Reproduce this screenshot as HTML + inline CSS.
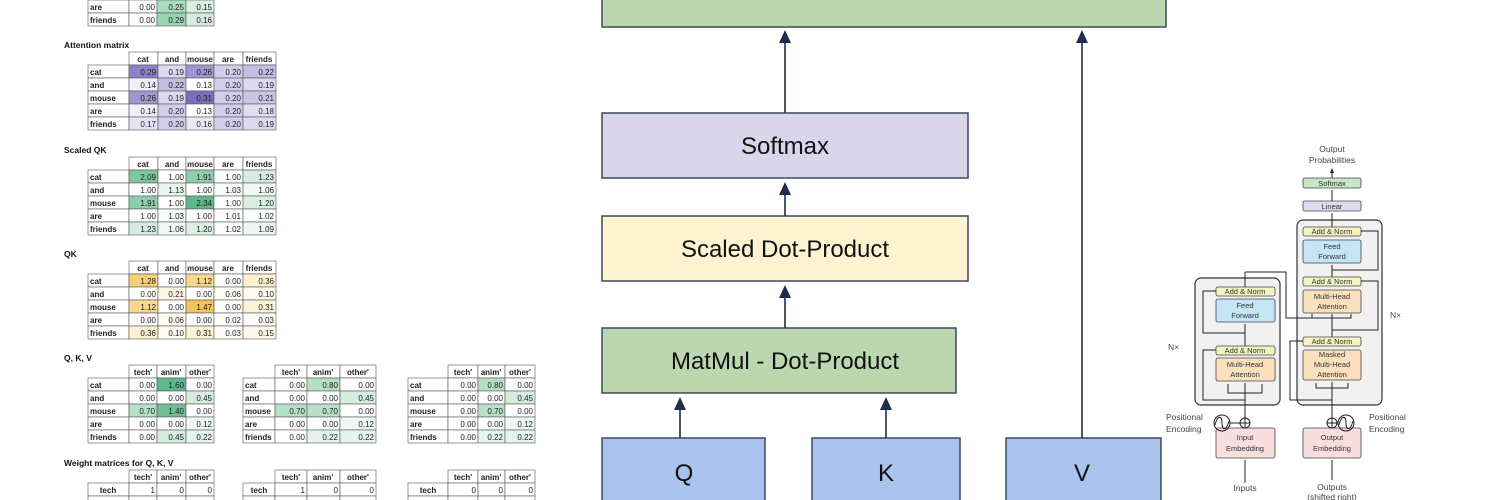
<!DOCTYPE html>
<html><head><meta charset="utf-8"><style>
html,body{margin:0;padding:0;background:#fff;width:1500px;height:500px;overflow:hidden}
svg{display:block}
.t{font-family:"Liberation Sans",sans-serif;font-size:8px;fill:#222}
.b{font-weight:bold}
.ti{font-family:"Liberation Sans",sans-serif;font-size:8.5px;font-weight:bold;fill:#111}
.c rect{stroke:#555;stroke-width:.6}
.big{font-family:"Liberation Sans",sans-serif;font-size:24px;fill:#111}
.s{font-family:"Liberation Sans",sans-serif;font-size:7.5px;fill:#333}
.sm{font-family:"Liberation Sans",sans-serif;font-size:8.5px;fill:#444}
</style></head><body>
<svg width="1500" height="500" viewBox="0 0 1500 500">

<!-- top partial table -->
<g class="c">
<rect x="88" y="0" width="41" height="13" fill="#fff"/><rect x="129" y="0" width="28" height="13" fill="#fff"/><rect x="157" y="0" width="29" height="13" fill="#a9dbbf"/><rect x="186" y="0" width="28" height="13" fill="#d8efe1"/>
<rect x="88" y="13" width="41" height="13" fill="#fff"/><rect x="129" y="13" width="28" height="13" fill="#fff"/><rect x="157" y="13" width="29" height="13" fill="#98d3b2"/><rect x="186" y="13" width="28" height="13" fill="#d5ecdf"/>
</g>
<g class="t" text-anchor="end">
<text x="155" y="10">0.00</text><text x="184" y="10">0.25</text><text x="212" y="10">0.15</text>
<text x="155" y="23">0.00</text><text x="184" y="23">0.29</text><text x="212" y="23">0.16</text>
</g>
<text class="t b" x="90" y="10">are</text><text class="t b" x="90" y="23">friends</text>

<!-- Attention matrix -->
<text class="ti" x="64" y="48">Attention matrix</text>
<g class="c">
<rect x="129" y="52" width="29" height="13" fill="#fff"/><rect x="158" y="52" width="28" height="13" fill="#fff"/><rect x="186" y="52" width="28" height="13" fill="#fff"/><rect x="214" y="52" width="29" height="13" fill="#fff"/><rect x="243" y="52" width="33" height="13" fill="#fff"/>
<rect x="88" y="65" width="41" height="13" fill="#fff"/><rect x="129" y="65" width="29" height="13" fill="#8e80c8"/><rect x="158" y="65" width="28" height="13" fill="#ddd8ef"/><rect x="186" y="65" width="28" height="13" fill="#a195d2"/><rect x="214" y="65" width="29" height="13" fill="#d3cceb"/><rect x="243" y="65" width="33" height="13" fill="#c4bce3"/>
<rect x="88" y="78" width="41" height="13" fill="#fff"/><rect x="129" y="78" width="29" height="13" fill="#f0eef8"/><rect x="158" y="78" width="28" height="13" fill="#c4bce3"/><rect x="186" y="78" width="28" height="13" fill="#fff"/><rect x="214" y="78" width="29" height="13" fill="#d3cceb"/><rect x="243" y="78" width="33" height="13" fill="#ddd8ef"/>
<rect x="88" y="91" width="41" height="13" fill="#fff"/><rect x="129" y="91" width="29" height="13" fill="#a195d2"/><rect x="158" y="91" width="28" height="13" fill="#ddd8ef"/><rect x="186" y="91" width="28" height="13" fill="#7d6cc0"/><rect x="214" y="91" width="29" height="13" fill="#d3cceb"/><rect x="243" y="91" width="33" height="13" fill="#cbc4e7"/>
<rect x="88" y="104" width="41" height="13" fill="#fff"/><rect x="129" y="104" width="29" height="13" fill="#f0eef8"/><rect x="158" y="104" width="28" height="13" fill="#d3cceb"/><rect x="186" y="104" width="28" height="13" fill="#fff"/><rect x="214" y="104" width="29" height="13" fill="#d3cceb"/><rect x="243" y="104" width="33" height="13" fill="#e2def2"/>
<rect x="88" y="117" width="41" height="13" fill="#fff"/><rect x="129" y="117" width="29" height="13" fill="#e6e2f3"/><rect x="158" y="117" width="28" height="13" fill="#d3cceb"/><rect x="186" y="117" width="28" height="13" fill="#ebe8f5"/><rect x="214" y="117" width="29" height="13" fill="#d3cceb"/><rect x="243" y="117" width="33" height="13" fill="#ddd8ef"/>
</g>
<g class="t b" text-anchor="middle"><text x="143" y="62">cat</text><text x="172" y="62">and</text><text x="200" y="62">mouse</text><text x="228" y="62">are</text><text x="259" y="62">friends</text></g>
<g class="t b"><text x="90" y="75">cat</text><text x="90" y="88">and</text><text x="90" y="101">mouse</text><text x="90" y="114">are</text><text x="90" y="127">friends</text></g>
<g class="t" text-anchor="end">
<text x="156" y="75">0.29</text><text x="184" y="75">0.19</text><text x="212" y="75">0.26</text><text x="241" y="75">0.20</text><text x="274" y="75">0.22</text>
<text x="156" y="88">0.14</text><text x="184" y="88">0.22</text><text x="212" y="88">0.13</text><text x="241" y="88">0.20</text><text x="274" y="88">0.19</text>
<text x="156" y="101">0.26</text><text x="184" y="101">0.19</text><text x="212" y="101">0.31</text><text x="241" y="101">0.20</text><text x="274" y="101">0.21</text>
<text x="156" y="114">0.14</text><text x="184" y="114">0.20</text><text x="212" y="114">0.13</text><text x="241" y="114">0.20</text><text x="274" y="114">0.18</text>
<text x="156" y="127">0.17</text><text x="184" y="127">0.20</text><text x="212" y="127">0.16</text><text x="241" y="127">0.20</text><text x="274" y="127">0.19</text>
</g>

<!-- Scaled QK -->
<text class="ti" x="64" y="153">Scaled QK</text>
<g class="c">
<rect x="129" y="157" width="29" height="13" fill="#fff"/><rect x="158" y="157" width="28" height="13" fill="#fff"/><rect x="186" y="157" width="28" height="13" fill="#fff"/><rect x="214" y="157" width="29" height="13" fill="#fff"/><rect x="243" y="157" width="33" height="13" fill="#fff"/>
<rect x="88" y="170" width="41" height="13" fill="#fff"/><rect x="129" y="170" width="29" height="13" fill="#7dc6a0"/><rect x="158" y="170" width="28" height="13" fill="#fff"/><rect x="186" y="170" width="28" height="13" fill="#8dcdaa"/><rect x="214" y="170" width="29" height="13" fill="#fff"/><rect x="243" y="170" width="33" height="13" fill="#d5ecdf"/>
<rect x="88" y="183" width="41" height="13" fill="#fff"/><rect x="129" y="183" width="29" height="13" fill="#fff"/><rect x="158" y="183" width="28" height="13" fill="#e8f5ed"/><rect x="186" y="183" width="28" height="13" fill="#fff"/><rect x="214" y="183" width="29" height="13" fill="#f7fbf9"/><rect x="243" y="183" width="33" height="13" fill="#f2f9f5"/>
<rect x="88" y="196" width="41" height="13" fill="#fff"/><rect x="129" y="196" width="29" height="13" fill="#8dcdaa"/><rect x="158" y="196" width="28" height="13" fill="#fff"/><rect x="186" y="196" width="28" height="13" fill="#5cb88a"/><rect x="214" y="196" width="29" height="13" fill="#fff"/><rect x="243" y="196" width="33" height="13" fill="#daeee2"/>
<rect x="88" y="209" width="41" height="13" fill="#fff"/><rect x="129" y="209" width="29" height="13" fill="#fff"/><rect x="158" y="209" width="28" height="13" fill="#f7fbf9"/><rect x="186" y="209" width="28" height="13" fill="#fff"/><rect x="214" y="209" width="29" height="13" fill="#fff"/><rect x="243" y="209" width="33" height="13" fill="#fafdfb"/>
<rect x="88" y="222" width="41" height="13" fill="#fff"/><rect x="129" y="222" width="29" height="13" fill="#d5ecdf"/><rect x="158" y="222" width="28" height="13" fill="#f2f9f5"/><rect x="186" y="222" width="28" height="13" fill="#daeee2"/><rect x="214" y="222" width="29" height="13" fill="#fafdfb"/><rect x="243" y="222" width="33" height="13" fill="#ecf6f0"/>
</g>
<g class="t b" text-anchor="middle"><text x="143" y="167">cat</text><text x="172" y="167">and</text><text x="200" y="167">mouse</text><text x="228" y="167">are</text><text x="259" y="167">friends</text></g>
<g class="t b"><text x="90" y="180">cat</text><text x="90" y="193">and</text><text x="90" y="206">mouse</text><text x="90" y="219">are</text><text x="90" y="232">friends</text></g>
<g class="t" text-anchor="end">
<text x="156" y="180">2.09</text><text x="184" y="180">1.00</text><text x="212" y="180">1.91</text><text x="241" y="180">1.00</text><text x="274" y="180">1.23</text>
<text x="156" y="193">1.00</text><text x="184" y="193">1.13</text><text x="212" y="193">1.00</text><text x="241" y="193">1.03</text><text x="274" y="193">1.06</text>
<text x="156" y="206">1.91</text><text x="184" y="206">1.00</text><text x="212" y="206">2.34</text><text x="241" y="206">1.00</text><text x="274" y="206">1.20</text>
<text x="156" y="219">1.00</text><text x="184" y="219">1.03</text><text x="212" y="219">1.00</text><text x="241" y="219">1.01</text><text x="274" y="219">1.02</text>
<text x="156" y="232">1.23</text><text x="184" y="232">1.06</text><text x="212" y="232">1.20</text><text x="241" y="232">1.02</text><text x="274" y="232">1.09</text>
</g>

<!-- QK -->
<text class="ti" x="64" y="257">QK</text>
<g class="c">
<rect x="129" y="261" width="29" height="13" fill="#fff"/><rect x="158" y="261" width="28" height="13" fill="#fff"/><rect x="186" y="261" width="28" height="13" fill="#fff"/><rect x="214" y="261" width="29" height="13" fill="#fff"/><rect x="243" y="261" width="33" height="13" fill="#fff"/>
<rect x="88" y="274" width="41" height="13" fill="#fff"/><rect x="129" y="274" width="29" height="13" fill="#f6cf76"/><rect x="158" y="274" width="28" height="13" fill="#fff"/><rect x="186" y="274" width="28" height="13" fill="#f8d98c"/><rect x="214" y="274" width="29" height="13" fill="#fff"/><rect x="243" y="274" width="33" height="13" fill="#fdf0cf"/>
<rect x="88" y="287" width="41" height="13" fill="#fff"/><rect x="129" y="287" width="29" height="13" fill="#fff"/><rect x="158" y="287" width="28" height="13" fill="#fef6e2"/><rect x="186" y="287" width="28" height="13" fill="#fff"/><rect x="214" y="287" width="29" height="13" fill="#fffcf5"/><rect x="243" y="287" width="33" height="13" fill="#fffaef"/>
<rect x="88" y="300" width="41" height="13" fill="#fff"/><rect x="129" y="300" width="29" height="13" fill="#f8d98c"/><rect x="158" y="300" width="28" height="13" fill="#fff"/><rect x="186" y="300" width="28" height="13" fill="#f4c35a"/><rect x="214" y="300" width="29" height="13" fill="#fff"/><rect x="243" y="300" width="33" height="13" fill="#fdf2d6"/>
<rect x="88" y="313" width="41" height="13" fill="#fff"/><rect x="129" y="313" width="29" height="13" fill="#fff"/><rect x="158" y="313" width="28" height="13" fill="#fffcf5"/><rect x="186" y="313" width="28" height="13" fill="#fff"/><rect x="214" y="313" width="29" height="13" fill="#fff"/><rect x="243" y="313" width="33" height="13" fill="#fffdf8"/>
<rect x="88" y="326" width="41" height="13" fill="#fff"/><rect x="129" y="326" width="29" height="13" fill="#fdf0cf"/><rect x="158" y="326" width="28" height="13" fill="#fffaef"/><rect x="186" y="326" width="28" height="13" fill="#fdf2d6"/><rect x="214" y="326" width="29" height="13" fill="#fffdf8"/><rect x="243" y="326" width="33" height="13" fill="#fef8ea"/>
</g>
<g class="t b" text-anchor="middle"><text x="143" y="271">cat</text><text x="172" y="271">and</text><text x="200" y="271">mouse</text><text x="228" y="271">are</text><text x="259" y="271">friends</text></g>
<g class="t b"><text x="90" y="284">cat</text><text x="90" y="297">and</text><text x="90" y="310">mouse</text><text x="90" y="323">are</text><text x="90" y="336">friends</text></g>
<g class="t" text-anchor="end">
<text x="156" y="284">1.28</text><text x="184" y="284">0.00</text><text x="212" y="284">1.12</text><text x="241" y="284">0.00</text><text x="274" y="284">0.36</text>
<text x="156" y="297">0.00</text><text x="184" y="297">0.21</text><text x="212" y="297">0.00</text><text x="241" y="297">0.06</text><text x="274" y="297">0.10</text>
<text x="156" y="310">1.12</text><text x="184" y="310">0.00</text><text x="212" y="310">1.47</text><text x="241" y="310">0.00</text><text x="274" y="310">0.31</text>
<text x="156" y="323">0.00</text><text x="184" y="323">0.06</text><text x="212" y="323">0.00</text><text x="241" y="323">0.02</text><text x="274" y="323">0.03</text>
<text x="156" y="336">0.36</text><text x="184" y="336">0.10</text><text x="212" y="336">0.31</text><text x="241" y="336">0.03</text><text x="274" y="336">0.15</text>
</g>

<!-- Q K V -->
<text class="ti" x="64" y="361">Q, K, V</text>
<g class="c">
<rect x="129" y="365" width="28" height="13" fill="#fff"/><rect x="157" y="365" width="29" height="13" fill="#fff"/><rect x="186" y="365" width="28" height="13" fill="#fff"/>
<rect x="88" y="378" width="41" height="13" fill="#fff"/><rect x="129" y="378" width="28" height="13" fill="#fff"/><rect x="157" y="378" width="29" height="13" fill="#5fb98c"/><rect x="186" y="378" width="28" height="13" fill="#fff"/>
<rect x="88" y="391" width="41" height="13" fill="#fff"/><rect x="129" y="391" width="28" height="13" fill="#fff"/><rect x="157" y="391" width="29" height="13" fill="#fff"/><rect x="186" y="391" width="28" height="13" fill="#d5ecdf"/>
<rect x="88" y="404" width="41" height="13" fill="#fff"/><rect x="129" y="404" width="28" height="13" fill="#b6dfc6"/><rect x="157" y="404" width="29" height="13" fill="#6fbf96"/><rect x="186" y="404" width="28" height="13" fill="#fff"/>
<rect x="88" y="417" width="41" height="13" fill="#fff"/><rect x="129" y="417" width="28" height="13" fill="#fff"/><rect x="157" y="417" width="29" height="13" fill="#fff"/><rect x="186" y="417" width="28" height="13" fill="#f0f8f3"/>
<rect x="88" y="430" width="41" height="13" fill="#fff"/><rect x="129" y="430" width="28" height="13" fill="#fff"/><rect x="157" y="430" width="29" height="13" fill="#d5ecdf"/><rect x="186" y="430" width="28" height="13" fill="#e6f4eb"/>
</g>
<g class="t b" text-anchor="middle"><text x="143" y="375">tech'</text><text x="171" y="375">anim'</text><text x="200" y="375">other'</text></g>
<g class="t b"><text x="90" y="388">cat</text><text x="90" y="401">and</text><text x="90" y="414">mouse</text><text x="90" y="427">are</text><text x="90" y="440">friends</text></g>
<g class="t" text-anchor="end">
<text x="155" y="388">0.00</text><text x="184" y="388">1.60</text><text x="212" y="388">0.00</text>
<text x="155" y="401">0.00</text><text x="184" y="401">0.00</text><text x="212" y="401">0.45</text>
<text x="155" y="414">0.70</text><text x="184" y="414">1.40</text><text x="212" y="414">0.00</text>
<text x="155" y="427">0.00</text><text x="184" y="427">0.00</text><text x="212" y="427">0.12</text>
<text x="155" y="440">0.00</text><text x="184" y="440">0.45</text><text x="212" y="440">0.22</text>
</g>
<g class="c">
<rect x="275" y="365" width="32" height="13" fill="#fff"/><rect x="307" y="365" width="33" height="13" fill="#fff"/><rect x="340" y="365" width="36" height="13" fill="#fff"/>
<rect x="243" y="378" width="32" height="13" fill="#fff"/><rect x="275" y="378" width="32" height="13" fill="#fff"/><rect x="307" y="378" width="33" height="13" fill="#b6dfc6"/><rect x="340" y="378" width="36" height="13" fill="#fff"/>
<rect x="243" y="391" width="32" height="13" fill="#fff"/><rect x="275" y="391" width="32" height="13" fill="#fff"/><rect x="307" y="391" width="33" height="13" fill="#fff"/><rect x="340" y="391" width="36" height="13" fill="#d5ecdf"/>
<rect x="243" y="404" width="32" height="13" fill="#fff"/><rect x="275" y="404" width="32" height="13" fill="#b6dfc6"/><rect x="307" y="404" width="33" height="13" fill="#b6dfc6"/><rect x="340" y="404" width="36" height="13" fill="#fff"/>
<rect x="243" y="417" width="32" height="13" fill="#fff"/><rect x="275" y="417" width="32" height="13" fill="#fff"/><rect x="307" y="417" width="33" height="13" fill="#fff"/><rect x="340" y="417" width="36" height="13" fill="#f0f8f3"/>
<rect x="243" y="430" width="32" height="13" fill="#fff"/><rect x="275" y="430" width="32" height="13" fill="#fff"/><rect x="307" y="430" width="33" height="13" fill="#e6f4eb"/><rect x="340" y="430" width="36" height="13" fill="#e6f4eb"/>
</g>
<g class="t b" text-anchor="middle"><text x="291" y="375">tech'</text><text x="323" y="375">anim'</text><text x="358" y="375">other'</text></g>
<g class="t b"><text x="245" y="388">cat</text><text x="245" y="401">and</text><text x="245" y="414">mouse</text><text x="245" y="427">are</text><text x="245" y="440">friends</text></g>
<g class="t" text-anchor="end">
<text x="305" y="388">0.00</text><text x="338" y="388">0.80</text><text x="374" y="388">0.00</text>
<text x="305" y="401">0.00</text><text x="338" y="401">0.00</text><text x="374" y="401">0.45</text>
<text x="305" y="414">0.70</text><text x="338" y="414">0.70</text><text x="374" y="414">0.00</text>
<text x="305" y="427">0.00</text><text x="338" y="427">0.00</text><text x="374" y="427">0.12</text>
<text x="305" y="440">0.00</text><text x="338" y="440">0.22</text><text x="374" y="440">0.22</text>
</g>
<g class="c">
<rect x="448" y="365" width="30" height="13" fill="#fff"/><rect x="478" y="365" width="27" height="13" fill="#fff"/><rect x="505" y="365" width="30" height="13" fill="#fff"/>
<rect x="408" y="378" width="40" height="13" fill="#fff"/><rect x="448" y="378" width="30" height="13" fill="#fff"/><rect x="478" y="378" width="27" height="13" fill="#b6dfc6"/><rect x="505" y="378" width="30" height="13" fill="#fff"/>
<rect x="408" y="391" width="40" height="13" fill="#fff"/><rect x="448" y="391" width="30" height="13" fill="#fff"/><rect x="478" y="391" width="27" height="13" fill="#fff"/><rect x="505" y="391" width="30" height="13" fill="#d5ecdf"/>
<rect x="408" y="404" width="40" height="13" fill="#fff"/><rect x="448" y="404" width="30" height="13" fill="#fff"/><rect x="478" y="404" width="27" height="13" fill="#b6dfc6"/><rect x="505" y="404" width="30" height="13" fill="#fff"/>
<rect x="408" y="417" width="40" height="13" fill="#fff"/><rect x="448" y="417" width="30" height="13" fill="#fff"/><rect x="478" y="417" width="27" height="13" fill="#fff"/><rect x="505" y="417" width="30" height="13" fill="#f0f8f3"/>
<rect x="408" y="430" width="40" height="13" fill="#fff"/><rect x="448" y="430" width="30" height="13" fill="#fff"/><rect x="478" y="430" width="27" height="13" fill="#e6f4eb"/><rect x="505" y="430" width="30" height="13" fill="#e6f4eb"/>
</g>
<g class="t b" text-anchor="middle"><text x="463" y="375">tech'</text><text x="491" y="375">anim'</text><text x="520" y="375">other'</text></g>
<g class="t b"><text x="410" y="388">cat</text><text x="410" y="401">and</text><text x="410" y="414">mouse</text><text x="410" y="427">are</text><text x="410" y="440">friends</text></g>
<g class="t" text-anchor="end">
<text x="476" y="388">0.00</text><text x="503" y="388">0.80</text><text x="533" y="388">0.00</text>
<text x="476" y="401">0.00</text><text x="503" y="401">0.00</text><text x="533" y="401">0.45</text>
<text x="476" y="414">0.00</text><text x="503" y="414">0.70</text><text x="533" y="414">0.00</text>
<text x="476" y="427">0.00</text><text x="503" y="427">0.00</text><text x="533" y="427">0.12</text>
<text x="476" y="440">0.00</text><text x="503" y="440">0.22</text><text x="533" y="440">0.22</text>
</g>

<!-- Weight matrices -->
<text class="ti" x="64" y="466">Weight matrices for Q, K, V</text>
<g class="c">
<rect x="129" y="470" width="28" height="13" fill="#fff"/><rect x="157" y="470" width="29" height="13" fill="#fff"/><rect x="186" y="470" width="28" height="13" fill="#fff"/>
<rect x="88" y="483" width="41" height="13" fill="#fff"/><rect x="129" y="483" width="28" height="13" fill="#fff"/><rect x="157" y="483" width="29" height="13" fill="#fff"/><rect x="186" y="483" width="28" height="13" fill="#fff"/>
<rect x="88" y="496" width="41" height="13" fill="#fff"/><rect x="129" y="496" width="28" height="13" fill="#fff"/><rect x="157" y="496" width="29" height="13" fill="#fff"/><rect x="186" y="496" width="28" height="13" fill="#fff"/>
<rect x="275" y="470" width="32" height="13" fill="#fff"/><rect x="307" y="470" width="33" height="13" fill="#fff"/><rect x="340" y="470" width="36" height="13" fill="#fff"/>
<rect x="243" y="483" width="32" height="13" fill="#fff"/><rect x="275" y="483" width="32" height="13" fill="#fff"/><rect x="307" y="483" width="33" height="13" fill="#fff"/><rect x="340" y="483" width="36" height="13" fill="#fff"/>
<rect x="243" y="496" width="32" height="13" fill="#fff"/><rect x="275" y="496" width="32" height="13" fill="#fff"/><rect x="307" y="496" width="33" height="13" fill="#fff"/><rect x="340" y="496" width="36" height="13" fill="#fff"/>
<rect x="448" y="470" width="30" height="13" fill="#fff"/><rect x="478" y="470" width="27" height="13" fill="#fff"/><rect x="505" y="470" width="30" height="13" fill="#fff"/>
<rect x="408" y="483" width="40" height="13" fill="#fff"/><rect x="448" y="483" width="30" height="13" fill="#fff"/><rect x="478" y="483" width="27" height="13" fill="#fff"/><rect x="505" y="483" width="30" height="13" fill="#fff"/>
<rect x="408" y="496" width="40" height="13" fill="#fff"/><rect x="448" y="496" width="30" height="13" fill="#fff"/><rect x="478" y="496" width="27" height="13" fill="#fff"/><rect x="505" y="496" width="30" height="13" fill="#fff"/>
</g>
<g class="t b" text-anchor="middle">
<text x="143" y="480">tech'</text><text x="171" y="480">anim'</text><text x="200" y="480">other'</text><text x="108" y="493">tech</text>
<text x="291" y="480">tech'</text><text x="323" y="480">anim'</text><text x="358" y="480">other'</text><text x="259" y="493">tech</text>
<text x="463" y="480">tech'</text><text x="491" y="480">anim'</text><text x="520" y="480">other'</text><text x="428" y="493">tech</text>
</g>
<g class="t" text-anchor="end">
<text x="155" y="493">1</text><text x="184" y="493">0</text><text x="212" y="493">0</text>
<text x="305" y="493">1</text><text x="338" y="493">0</text><text x="374" y="493">0</text>
<text x="476" y="493">0</text><text x="503" y="493">0</text><text x="533" y="493">0</text>
</g>

<!-- Middle diagram -->
<g stroke="#3a4a5c" stroke-width="1.5">
<rect x="602" y="-5" width="564" height="32" fill="#bcd7b0"/>
<rect x="602" y="113" width="366" height="65" fill="#d9d5ea"/>
<rect x="602" y="216" width="366" height="65" fill="#fdf3d1"/>
<rect x="602" y="328" width="354" height="65" fill="#bcd7b0"/>
<rect x="602" y="438" width="163" height="70" fill="#a9c2ee"/>
<rect x="812" y="438" width="148" height="70" fill="#a9c2ee"/>
<rect x="1006" y="438" width="155" height="70" fill="#a9c2ee"/>
</g>
<g stroke="#1f2d4a" stroke-width="1.6">
<line x1="785" y1="113" x2="785" y2="40"/>
<line x1="785" y1="216" x2="785" y2="190"/>
<line x1="785" y1="328" x2="785" y2="293"/>
<line x1="1082" y1="438" x2="1082" y2="40"/>
<line x1="680" y1="438" x2="680" y2="405"/>
<line x1="886" y1="438" x2="886" y2="405"/>
</g>
<g fill="#1f2d4a">
<polygon points="785,30 779,43 791,43"/>
<polygon points="785,182 779,195 791,195"/>
<polygon points="785,285 779,298 791,298"/>
<polygon points="1082,30 1076,43 1088,43"/>
<polygon points="680,397 674,410 686,410"/>
<polygon points="886,397 880,410 892,410"/>
</g>
<g class="big" text-anchor="middle">
<text x="785" y="154">Softmax</text>
<text x="785" y="257">Scaled Dot-Product</text>
<text x="785" y="369">MatMul - Dot-Product</text>
<text x="684" y="481">Q</text>
<text x="886" y="481">K</text>
<text x="1082" y="481">V</text>
</g>

<!-- Transformer -->
<g stroke="#333" stroke-width="1.2">
<rect x="1297" y="220" width="85" height="185" rx="6" fill="#f1f1f1"/>
<rect x="1195" y="278" width="85" height="127" rx="6" fill="#f1f1f1"/>
</g>
<g stroke="#444" stroke-width="0.8">
<rect x="1303" y="178" width="58" height="10" rx="2" fill="#c8e6c9"/>
<rect x="1303" y="201" width="58" height="10" rx="2" fill="#dcdcf0"/>
<rect x="1303" y="227" width="58" height="9" rx="2" fill="#f2f4c0"/>
<rect x="1303" y="240" width="58" height="23" rx="2" fill="#c5e4f5"/>
<rect x="1303" y="277" width="58" height="9" rx="2" fill="#f2f4c0"/>
<rect x="1303" y="290" width="58" height="23" rx="2" fill="#fbe0be"/>
<rect x="1303" y="337" width="58" height="9" rx="2" fill="#f2f4c0"/>
<rect x="1303" y="350" width="58" height="30" rx="2" fill="#fbe0be"/>
<rect x="1216" y="287" width="59" height="9" rx="2" fill="#f2f4c0"/>
<rect x="1216" y="299" width="59" height="23" rx="2" fill="#c5e4f5"/>
<rect x="1216" y="346" width="59" height="9" rx="2" fill="#f2f4c0"/>
<rect x="1216" y="358" width="59" height="23" rx="2" fill="#fbe0be"/>
<rect x="1216" y="428" width="59" height="30" rx="2" fill="#f9dede"/>
<rect x="1303" y="428" width="58" height="30" rx="2" fill="#f9dede"/>
</g>
<g stroke="#222" stroke-width="1" fill="none">
<line x1="1332" y1="178" x2="1332" y2="170"/>
<line x1="1332" y1="201" x2="1332" y2="190"/>
<line x1="1332" y1="227" x2="1332" y2="213"/>
<line x1="1332" y1="277" x2="1332" y2="265"/>
<line x1="1332" y1="337" x2="1332" y2="315"/>
<line x1="1332" y1="418" x2="1332" y2="382"/>
<line x1="1245" y1="418" x2="1245" y2="383"/>
<line x1="1245" y1="346" x2="1245" y2="324"/>
<line x1="1245" y1="287" x2="1245" y2="272"/>
<path d="M1245,272 H1286 V318 H1312 V314"/>
<path d="M1286,318 H1332 V314"/>
<path d="M1286,318 H1351 V314"/>
<path d="M1332,400 H1290 V341 H1303"/>
<path d="M1332,330 H1378 V281 H1361"/>
<path d="M1332,270 H1378 V231 H1361"/>
<path d="M1245,400 H1203 V350 H1216"/>
<path d="M1245,333 H1203 V291 H1216"/>
<path d="M1245,393 H1228 V384 M1245,393 H1262 V384"/>
<path d="M1332,388 H1316 V383 M1332,388 H1348 V383"/>
<line x1="1245" y1="483" x2="1245" y2="460"/>
<line x1="1332" y1="480" x2="1332" y2="460"/>
<line x1="1245" y1="428" x2="1245" y2="428"/>
<line x1="1230" y1="423" x2="1240" y2="423"/>
<line x1="1337" y1="423" x2="1338" y2="423"/>
<circle cx="1245" cy="423" r="5"/>
<circle cx="1332" cy="423" r="5"/>
<circle cx="1222" cy="423" r="8"/>
<circle cx="1346" cy="423" r="8"/>
<path d="M1240,423 H1250 M1245,418 V428 M1327,423 H1337 M1332,418 V428"/>
<path d="M1215,425 C1218,414 1222,416 1222,423 C1222,430 1226,432 1229,421"/>
<path d="M1339,425 C1342,414 1346,416 1346,423 C1346,430 1350,432 1353,421"/>
</g>
<g fill="#222">
<polygon points="1332,168 1330,173 1334,173"/>
</g>
<g class="s" text-anchor="middle">
<text x="1332" y="186">Softmax</text>
<text x="1332" y="209">Linear</text>
<text x="1332" y="234">Add &amp; Norm</text>
<text x="1332" y="249">Feed</text><text x="1332" y="259">Forward</text>
<text x="1332" y="284">Add &amp; Norm</text>
<text x="1332" y="299">Multi-Head</text><text x="1332" y="309">Attention</text>
<text x="1332" y="344">Add &amp; Norm</text>
<text x="1332" y="357">Masked</text><text x="1332" y="367">Multi-Head</text><text x="1332" y="377">Attention</text>
<text x="1245" y="294">Add &amp; Norm</text>
<text x="1245" y="308">Feed</text><text x="1245" y="318">Forward</text>
<text x="1245" y="353">Add &amp; Norm</text>
<text x="1245" y="367">Multi-Head</text><text x="1245" y="377">Attention</text>
<text x="1245" y="440">Input</text><text x="1245" y="451">Embedding</text>
<text x="1332" y="440">Output</text><text x="1332" y="451">Embedding</text>
</g>
<g class="sm">
<text x="1332" y="152" text-anchor="middle">Output</text><text x="1332" y="163" text-anchor="middle">Probabilities</text>
<text x="1245" y="491" text-anchor="middle">Inputs</text>
<text x="1332" y="490" text-anchor="middle">Outputs</text><text x="1332" y="500" text-anchor="middle">(shifted right)</text>
<text x="1166" y="420">Positional</text><text x="1166" y="432">Encoding</text>
<text x="1369" y="420">Positional</text><text x="1369" y="432">Encoding</text>
<text x="1168" y="350">N×</text>
<text x="1390" y="318">N×</text>
</g>
</svg>
</body></html>
